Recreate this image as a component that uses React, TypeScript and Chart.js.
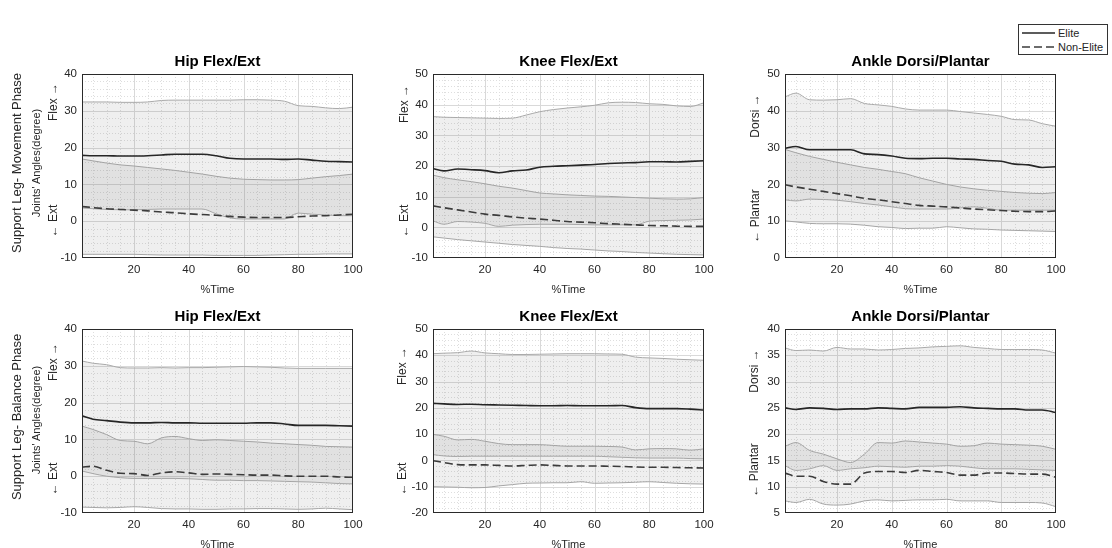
import React, { useEffect, useRef } from "react";
import { Chart, registerables } from "chart.js";
Chart.register(...registerables);

const timePct = [1, 5, 10, 15, 20, 25, 30, 35, 40, 45, 50, 55, 60, 65, 70, 75, 80, 85, 90, 95, 100];
const xTickValues = [20, 40, 60, 80, 100];

// Support Leg - Movement Phase
const hipMoveEliteMean = [17.9, 17.8, 17.8, 17.7, 17.7, 17.8, 18.0, 18.2, 18.2, 18.2, 17.8, 17.1, 16.9, 16.9, 16.9, 16.8, 16.9, 16.6, 16.3, 16.2, 16.1];
const hipMoveEliteUpper = [32.4, 32.4, 32.4, 32.3, 32.3, 32.4, 32.8, 32.9, 32.9, 32.9, 32.9, 32.9, 33.0, 33.0, 32.9, 32.6, 31.4, 31.2, 30.8, 30.6, 31.0];
const hipMoveEliteLower = [3.6, 3.4, 3.2, 3.1, 3.1, 3.2, 3.3, 3.3, 3.3, 3.3, 2.0, 0.9, 0.6, 0.6, 0.6, 0.6, 2.2, 1.9, 1.7, 1.5, 1.5];
const hipMoveNonMean = [4.0, 3.7, 3.4, 3.2, 3.0, 2.8, 2.5, 2.3, 2.0, 1.8, 1.6, 1.3, 1.1, 1.0, 1.0, 1.0, 1.2, 1.4, 1.5, 1.7, 1.9];
const hipMoveNonUpper = [16.9, 16.4, 15.8, 15.3, 15.0, 14.6, 14.2, 13.8, 13.3, 12.8, 12.2, 11.7, 11.4, 11.3, 11.2, 11.2, 11.3, 11.7, 12.1, 12.4, 12.8];
const hipMoveNonLower = [-9.0, -9.0, -9.0, -9.0, -9.0, -9.1, -9.2, -9.2, -9.2, -9.2, -9.3, -9.3, -9.3, -9.3, -9.2, -9.1, -9.0, -9.0, -8.9, -8.9, -8.9];

const kneeMoveEliteMean = [19.2, 18.4, 19.0, 18.8, 18.5, 17.8, 18.4, 18.7, 19.6, 19.9, 20.1, 20.3, 20.5, 20.8, 21.0, 21.1, 21.4, 21.4, 21.3, 21.5, 21.7];
const kneeMoveEliteUpper = [36.1, 35.9, 35.8, 35.7, 35.6, 35.5, 35.6, 36.6, 37.7, 38.4, 38.9, 39.3, 39.8, 40.6, 40.8, 40.7, 40.3, 40.1, 39.6, 39.4, 40.6];
const kneeMoveEliteLower = [2.1, 1.0, 1.9, 1.7, 1.3, 0.3, 0.7, 0.9, 1.0, 1.0, 1.0, 0.9, 0.8, 0.8, 0.8, 0.8, 2.0, 2.2, 2.3, 2.4, 2.7];
const kneeMoveNonMean = [7.0, 6.4, 5.7, 5.0, 4.3, 3.9, 3.4, 3.0, 2.7, 2.3, 1.9, 1.7, 1.5, 1.2, 1.0, 0.8, 0.6, 0.5, 0.4, 0.3, 0.3];
const kneeMoveNonUpper = [17.0, 16.2, 15.5, 14.9, 14.2, 13.4, 12.8, 12.0, 11.2, 10.9, 10.6, 10.4, 10.2, 10.1, 9.9, 9.7, 9.5, 9.3, 9.2, 9.3, 9.7];
const kneeMoveNonLower = [-3.1, -3.5, -4.0, -4.4, -4.8, -5.2, -5.6, -5.9, -6.2, -6.6, -6.9, -7.1, -7.4, -7.7, -7.9, -8.2, -8.4, -8.6, -8.8, -8.9, -9.0];

const ankleMoveEliteMean = [29.8, 30.3, 29.4, 29.4, 29.4, 29.4, 28.3, 28.1, 27.7, 27.1, 27.0, 27.1, 27.1, 26.9, 26.8, 26.5, 26.3, 25.5, 25.3, 24.6, 24.8];
const ankleMoveEliteUpper = [43.8, 44.8, 43.0, 42.9, 43.0, 43.3, 42.0, 41.6, 41.2, 40.5, 40.2, 40.2, 40.2, 39.8, 39.4, 39.0, 38.5, 37.6, 37.5, 36.5, 35.8];
const ankleMoveEliteLower = [15.8, 15.5, 16.0, 15.9, 15.7, 15.3, 14.8, 14.4, 13.9, 13.4, 13.3, 13.3, 13.3, 13.6, 13.9, 13.5, 13.0, 13.0, 13.0, 13.0, 13.0];
const ankleMoveNonMean = [19.9, 19.3, 18.7, 18.1, 17.5, 16.9, 16.2, 15.8, 15.3, 14.8, 14.3, 14.1, 13.9, 13.6, 13.3, 13.1, 12.9, 12.7, 12.6, 12.6, 12.8];
const ankleMoveNonUpper = [29.5, 28.6, 27.6, 26.8, 26.0, 25.3, 24.6, 24.1, 23.5, 22.9, 21.8, 20.9, 20.0, 19.3, 18.8, 18.4, 18.1, 17.8, 17.6, 17.5, 17.8];
const ankleMoveNonLower = [10.1, 9.8, 9.4, 9.3, 9.3, 9.2, 8.9, 8.5, 8.3, 8.0, 8.1, 8.1, 8.5, 8.2, 7.9, 7.8, 7.6, 7.5, 7.4, 7.3, 7.2];

// Support Leg - Balance Phase
const hipBalEliteMean = [16.4, 15.5, 15.1, 14.7, 14.5, 14.5, 14.6, 14.5, 14.5, 14.4, 14.4, 14.4, 14.4, 14.5, 14.5, 14.2, 13.8, 13.8, 13.8, 13.7, 13.6];
const hipBalEliteUpper = [31.3, 30.7, 30.3, 29.5, 29.4, 29.4, 29.5, 29.4, 29.5, 29.5, 29.6, 29.7, 29.8, 29.7, 29.6, 29.4, 29.3, 29.3, 29.3, 29.3, 29.3];
const hipBalEliteLower = [1.4, 0.7, 0.0, -0.4, -0.6, -0.6, -0.6, -0.6, -0.7, -0.9, -1.1, -1.1, -1.2, -1.2, -1.3, -1.4, -1.5, -1.6, -1.8, -2.0, -2.1];
const hipBalNonMean = [2.5, 2.7, 1.6, 0.8, 0.7, 0.2, 0.9, 1.2, 0.9, 0.5, 0.6, 0.5, 0.4, 0.3, 0.3, 0.1, 0.0, 0.0, 0.0, -0.2, -0.3];
const hipBalNonUpper = [13.6, 12.7, 11.3, 9.7, 9.5, 8.8, 10.4, 10.8, 10.2, 9.7, 9.9, 9.7, 9.5, 9.3, 9.0, 8.8, 8.6, 8.4, 8.1, 8.0, 7.9];
const hipBalNonLower = [-8.4, -8.5, -8.6, -8.5, -8.3, -8.5, -8.8, -8.9, -8.9, -9.0, -9.0, -8.9, -8.9, -8.8, -8.8, -8.9, -9.0, -8.9, -8.7, -8.9, -9.1];

const kneeBalEliteMean = [21.7, 21.5, 21.3, 21.4, 21.2, 21.1, 21.0, 20.9, 20.8, 20.8, 20.9, 20.8, 20.8, 20.8, 20.9, 20.1, 19.7, 19.7, 19.7, 19.5, 19.2];
const kneeBalEliteUpper = [40.6, 40.8, 41.0, 41.6, 40.9, 40.6, 40.3, 40.3, 40.4, 40.5, 40.6, 40.6, 40.6, 40.5, 40.4, 39.3, 39.0, 38.8, 38.5, 38.3, 38.1];
const kneeBalEliteLower = [2.2, 1.7, 1.5, 1.6, 1.6, 1.6, 1.6, 1.6, 1.6, 1.6, 1.6, 1.6, 1.6, 1.4, 1.2, 1.0, 0.9, 0.9, 0.9, 0.7, 0.6];
const kneeBalNonMean = [-0.1, -0.8, -1.6, -1.7, -1.7, -1.9, -2.1, -1.9, -1.7, -1.9, -2.1, -2.1, -2.1, -2.2, -2.3, -2.5, -2.6, -2.6, -2.7, -2.8, -2.9];
const kneeBalNonUpper = [9.9, 9.2, 7.8, 8.0, 7.3, 6.4, 6.0, 6.0, 6.0, 5.7, 5.4, 5.4, 5.4, 5.3, 5.1, 4.0, 4.4, 4.5, 4.4, 3.9, 4.4];
const kneeBalNonLower = [-10.0, -10.1, -10.2, -10.4, -10.3, -9.7, -9.2, -8.7, -8.6, -8.5, -8.5, -8.1, -8.7, -8.6, -8.5, -8.3, -8.1, -8.4, -8.7, -8.9, -9.0];

const ankleBalEliteMean = [25.0, 24.7, 25.0, 24.9, 24.7, 24.8, 24.8, 25.0, 24.9, 24.8, 25.1, 25.1, 25.1, 25.2, 25.0, 24.9, 24.8, 24.8, 24.6, 24.6, 24.1];
const ankleBalEliteUpper = [36.4, 35.9, 36.0, 35.8, 36.5, 36.2, 36.2, 36.0, 36.1, 36.3, 36.4, 36.6, 36.7, 36.8, 36.5, 36.3, 36.1, 36.1, 36.1, 36.0, 35.4];
const ankleBalEliteLower = [14.0, 13.1, 13.4, 14.0, 13.1, 13.4, 13.6, 13.9, 13.8, 13.7, 13.9, 13.9, 14.0, 13.9, 13.6, 13.4, 13.4, 13.4, 13.3, 13.2, 13.1];
const ankleBalNonMean = [12.6, 12.0, 12.0, 11.0, 10.5, 10.5, 12.6, 12.9, 12.9, 12.7, 13.1, 12.9, 12.7, 12.2, 12.2, 12.6, 12.6, 12.5, 12.4, 12.4, 11.8];
const ankleBalNonUpper = [17.7, 18.4, 16.9, 16.2, 15.3, 14.6, 16.2, 18.4, 18.3, 18.7, 18.5, 18.3, 18.1, 17.7, 17.8, 18.3, 18.1, 18.0, 17.9, 17.7, 17.1];
const ankleBalNonLower = [7.3, 7.0, 7.6, 6.7, 6.5, 6.7, 7.3, 7.5, 7.3, 7.4, 7.5, 7.5, 7.6, 7.3, 7.3, 7.3, 7.0, 7.0, 7.0, 6.9, 6.2];

const FONT = "'Liberation Sans', Arial, Helvetica, sans-serif";
const PLOT_W = 271;
const PLOT_H = 184;
const PAD_L = 48;
const PAD_T = 12;
const PAD_R = 16;
const PAD_B = 22;

type Series = {
  eliteMean: number[];
  eliteUpper: number[];
  eliteLower: number[];
  nonMean: number[];
  nonUpper: number[];
  nonLower: number[];
};

type PanelDef = {
  id: string;
  title: string;
  plotLeft: number;
  plotTop: number;
  yMin: number;
  yMax: number;
  yStep: number;
  yMinor: number;
  s: Series;
};

const panels: PanelDef[] = [
  { id: "hm", title: "Hip Flex/Ext", plotLeft: 82, plotTop: 74, yMin: -10, yMax: 40, yStep: 10, yMinor: 2,
    s: { eliteMean: hipMoveEliteMean, eliteUpper: hipMoveEliteUpper, eliteLower: hipMoveEliteLower, nonMean: hipMoveNonMean, nonUpper: hipMoveNonUpper, nonLower: hipMoveNonLower } },
  { id: "km", title: "Knee Flex/Ext", plotLeft: 433, plotTop: 74, yMin: -10, yMax: 50, yStep: 10, yMinor: 2,
    s: { eliteMean: kneeMoveEliteMean, eliteUpper: kneeMoveEliteUpper, eliteLower: kneeMoveEliteLower, nonMean: kneeMoveNonMean, nonUpper: kneeMoveNonUpper, nonLower: kneeMoveNonLower } },
  { id: "am", title: "Ankle Dorsi/Plantar", plotLeft: 785, plotTop: 74, yMin: 0, yMax: 50, yStep: 10, yMinor: 2,
    s: { eliteMean: ankleMoveEliteMean, eliteUpper: ankleMoveEliteUpper, eliteLower: ankleMoveEliteLower, nonMean: ankleMoveNonMean, nonUpper: ankleMoveNonUpper, nonLower: ankleMoveNonLower } },
  { id: "hb", title: "Hip Flex/Ext", plotLeft: 82, plotTop: 329, yMin: -10, yMax: 40, yStep: 10, yMinor: 2,
    s: { eliteMean: hipBalEliteMean, eliteUpper: hipBalEliteUpper, eliteLower: hipBalEliteLower, nonMean: hipBalNonMean, nonUpper: hipBalNonUpper, nonLower: hipBalNonLower } },
  { id: "kb", title: "Knee Flex/Ext", plotLeft: 433, plotTop: 329, yMin: -20, yMax: 50, yStep: 10, yMinor: 2,
    s: { eliteMean: kneeBalEliteMean, eliteUpper: kneeBalEliteUpper, eliteLower: kneeBalEliteLower, nonMean: kneeBalNonMean, nonUpper: kneeBalNonUpper, nonLower: kneeBalNonLower } },
  { id: "ab", title: "Ankle Dorsi/Plantar", plotLeft: 785, plotTop: 329, yMin: 5, yMax: 40, yStep: 5, yMinor: 1,
    s: { eliteMean: ankleBalEliteMean, eliteUpper: ankleBalEliteUpper, eliteLower: ankleBalEliteLower, nonMean: ankleBalNonMean, nonUpper: ankleBalNonUpper, nonLower: ankleBalNonLower } },
];

const BAND_FILL = "rgba(110,110,110,0.11)";
const BAND_EDGE = "#a9a9a9";

function PanelChart({ p }: { p: PanelDef }) {
  const ref = useRef<HTMLCanvasElement>(null);
  useEffect(() => {
    if (!ref.current) return;
    const pts = (arr: number[]) => timePct.map((x, i) => ({ x, y: arr[i] }));
    const gridPlugin = {
      id: "matlabGrid" + p.id,
      beforeDatasetsDraw(chart: any) {
        const { ctx, chartArea: a, scales } = chart;
        const xs = scales.x;
        const ys = scales.y;
        ctx.save();
        ctx.lineWidth = 1;
        ctx.strokeStyle = "#dedede";
        ctx.setLineDash([1, 2]);
        ctx.beginPath();
        for (let v = 5; v < 100; v += 5) {
          if (v % 20 === 0) continue;
          const px = Math.round(xs.getPixelForValue(v)) + 0.5;
          ctx.moveTo(px, a.top);
          ctx.lineTo(px, a.bottom);
        }
        const nMinor = Math.round((p.yMax - p.yMin) / p.yMinor);
        const perMajor = Math.round(p.yStep / p.yMinor);
        for (let k = 1; k < nMinor; k++) {
          if (k % perMajor === 0) continue;
          const v = p.yMin + k * p.yMinor;
          const py = Math.round(ys.getPixelForValue(v)) + 0.5;
          ctx.moveTo(a.left, py);
          ctx.lineTo(a.right, py);
        }
        ctx.stroke();
        ctx.setLineDash([]);
        ctx.strokeStyle = "#d9d9d9";
        ctx.beginPath();
        for (const v of [20, 40, 60, 80]) {
          const px = Math.round(xs.getPixelForValue(v)) + 0.5;
          ctx.moveTo(px, a.top);
          ctx.lineTo(px, a.bottom);
        }
        const nMajor = Math.round((p.yMax - p.yMin) / p.yStep);
        for (let k = 1; k < nMajor; k++) {
          const v = p.yMin + k * p.yStep;
          const py = Math.round(ys.getPixelForValue(v)) + 0.5;
          ctx.moveTo(a.left, py);
          ctx.lineTo(a.right, py);
        }
        ctx.stroke();
        ctx.restore();
      },
      afterDatasetsDraw(chart: any) {
        const { ctx, chartArea: a } = chart;
        ctx.save();
        ctx.strokeStyle = "#2a2a2a";
        ctx.lineWidth = 1;
        ctx.setLineDash([]);
        ctx.strokeRect(Math.round(a.left) + 0.5, Math.round(a.top) + 0.5, Math.round(a.right - a.left) - 1, Math.round(a.bottom - a.top) - 1);
        ctx.restore();
      },
    };

    const common = { pointRadius: 0, pointHoverRadius: 0, cubicInterpolationMode: "monotone" as const };
    const chart = new Chart(ref.current, {
      type: "line",
      data: {
        datasets: [
          { ...common, label: "Elite", data: pts(p.s.eliteMean), borderColor: "#262626", borderWidth: 1.6, fill: false },
          { ...common, label: "Non-Elite", data: pts(p.s.nonMean), borderColor: "#3c3c3c", borderWidth: 1.6, borderDash: [8, 4], fill: false },
          { ...common, label: "Elite upper", data: pts(p.s.eliteUpper), borderColor: BAND_EDGE, borderWidth: 1, backgroundColor: BAND_FILL, fill: { target: 3, above: BAND_FILL, below: BAND_FILL } },
          { ...common, label: "Elite lower", data: pts(p.s.eliteLower), borderColor: BAND_EDGE, borderWidth: 1, fill: false },
          { ...common, label: "Non-Elite upper", data: pts(p.s.nonUpper), borderColor: BAND_EDGE, borderWidth: 1, backgroundColor: BAND_FILL, fill: { target: 5, above: BAND_FILL, below: BAND_FILL } },
          { ...common, label: "Non-Elite lower", data: pts(p.s.nonLower), borderColor: BAND_EDGE, borderWidth: 1, fill: false },
        ],
      },
      options: {
        animation: false,
        responsive: false,
        maintainAspectRatio: false,
        events: [],
        layout: { padding: { left: 0, top: PAD_T, right: PAD_R, bottom: 0 } },
        plugins: { legend: { display: false }, tooltip: { enabled: false }, title: { display: false } },
        scales: {
          x: {
            type: "linear",
            min: 1,
            max: 100,
            afterBuildTicks: (scale: any) => {
              scale.ticks = xTickValues.map((v) => ({ value: v }));
            },
            afterFit: (scale: any) => {
              scale.height = PAD_B;
            },
            grid: { display: false, drawTicks: false },
            border: { display: false },
            ticks: { color: "#262626", padding: 5, maxRotation: 0, font: { family: FONT, size: 11.5 } },
          },
          y: {
            type: "linear",
            min: p.yMin,
            max: p.yMax,
            afterFit: (scale: any) => {
              scale.width = PAD_L;
            },
            grid: { display: false, drawTicks: false },
            border: { display: false },
            ticks: { color: "#262626", padding: 5, stepSize: p.yStep, font: { family: FONT, size: 11.5 } },
          },
        },
      },
      plugins: [gridPlugin],
    } as any);
    return () => chart.destroy();
  }, [p]);

  const w = PLOT_W + PAD_L + PAD_R;
  const h = PLOT_H + PAD_T + PAD_B;
  return (
    <canvas
      ref={ref}
      width={w}
      height={h}
      style={{ position: "absolute", left: p.plotLeft - PAD_L, top: p.plotTop - PAD_T, width: w, height: h }}
    />
  );
}

type VLabel = { text: string; x: number; y: number; size: number };

const sideLabels: VLabel[] = [
  { text: "Support Leg- Movement Phase", x: 16, y: 163, size: 13 },
  { text: "Joints' Angles(degree)", x: 36, y: 163, size: 11 },
  { text: "Flex \u2192", x: 53, y: 102, size: 12 },
  { text: "\u2190 Ext", x: 53, y: 221, size: 12 },
  { text: "Flex \u2192", x: 404, y: 104, size: 12 },
  { text: "\u2190 Ext", x: 404, y: 221, size: 12 },
  { text: "Dorsi \u2192", x: 755, y: 116, size: 12 },
  { text: "\u2190 Plantar", x: 755, y: 216, size: 12 },
  { text: "Support Leg- Balance Phase", x: 16, y: 417, size: 13 },
  { text: "Joints' Angles(degree)", x: 36, y: 420, size: 11 },
  { text: "Flex \u2192", x: 53, y: 362, size: 12 },
  { text: "\u2190 Ext", x: 53, y: 479, size: 12 },
  { text: "Flex \u2192", x: 402, y: 366, size: 12 },
  { text: "\u2190 Ext", x: 402, y: 479, size: 12 },
  { text: "Dorsi \u2192", x: 754, y: 371, size: 12 },
  { text: "\u2190 Plantar", x: 754, y: 470, size: 12 },
];

export default function App() {
  return (
    <div style={{ position: "fixed", left: 0, top: 0, width: 1112, height: 548, background: "#ffffff", overflow: "hidden" }}>
      {panels.map((p) => (
        <PanelChart key={p.id} p={p} />
      ))}
      <svg
        width={1112}
        height={548}
        style={{ position: "absolute", left: 0, top: 0, pointerEvents: "none" }}
        fontFamily={FONT}
      >
        {panels.map((p) => (
          <g key={"t" + p.id}>
            <text x={p.plotLeft + PLOT_W / 2} y={p.plotTop - 8} textAnchor="middle" fontWeight="bold" fontSize={15} fill="#000">
              {p.title}
            </text>
            <text x={p.plotLeft + PLOT_W / 2} y={p.plotTop + PLOT_H + 31} textAnchor="middle" dominantBaseline="central" fontSize={11} fill="#262626">
              %Time
            </text>
          </g>
        ))}
        {sideLabels.map((l, i) => (
          <text
            key={"s" + i}
            transform={`translate(${l.x},${l.y}) rotate(-90)`}
            textAnchor="middle"
            dominantBaseline="central"
            fontSize={l.size}
            fill="#262626"
          >
            {l.text}
          </text>
        ))}
        <rect x={1018.5} y={24.5} width={89} height={30} fill="#fff" stroke="#333" strokeWidth={1} />
        <line x1={1022} y1={33} x2={1055} y2={33} stroke="#262626" strokeWidth={1.3} />
        <line x1={1022} y1={47} x2={1055} y2={47} stroke="#3c3c3c" strokeWidth={1.3} strokeDasharray="8 4" />
        <text x={1058} y={33} dominantBaseline="central" fontSize={11} fill="#262626">Elite</text>
        <text x={1058} y={47} dominantBaseline="central" fontSize={11} fill="#262626">Non-Elite</text>
      </svg>
    </div>
  );
}
